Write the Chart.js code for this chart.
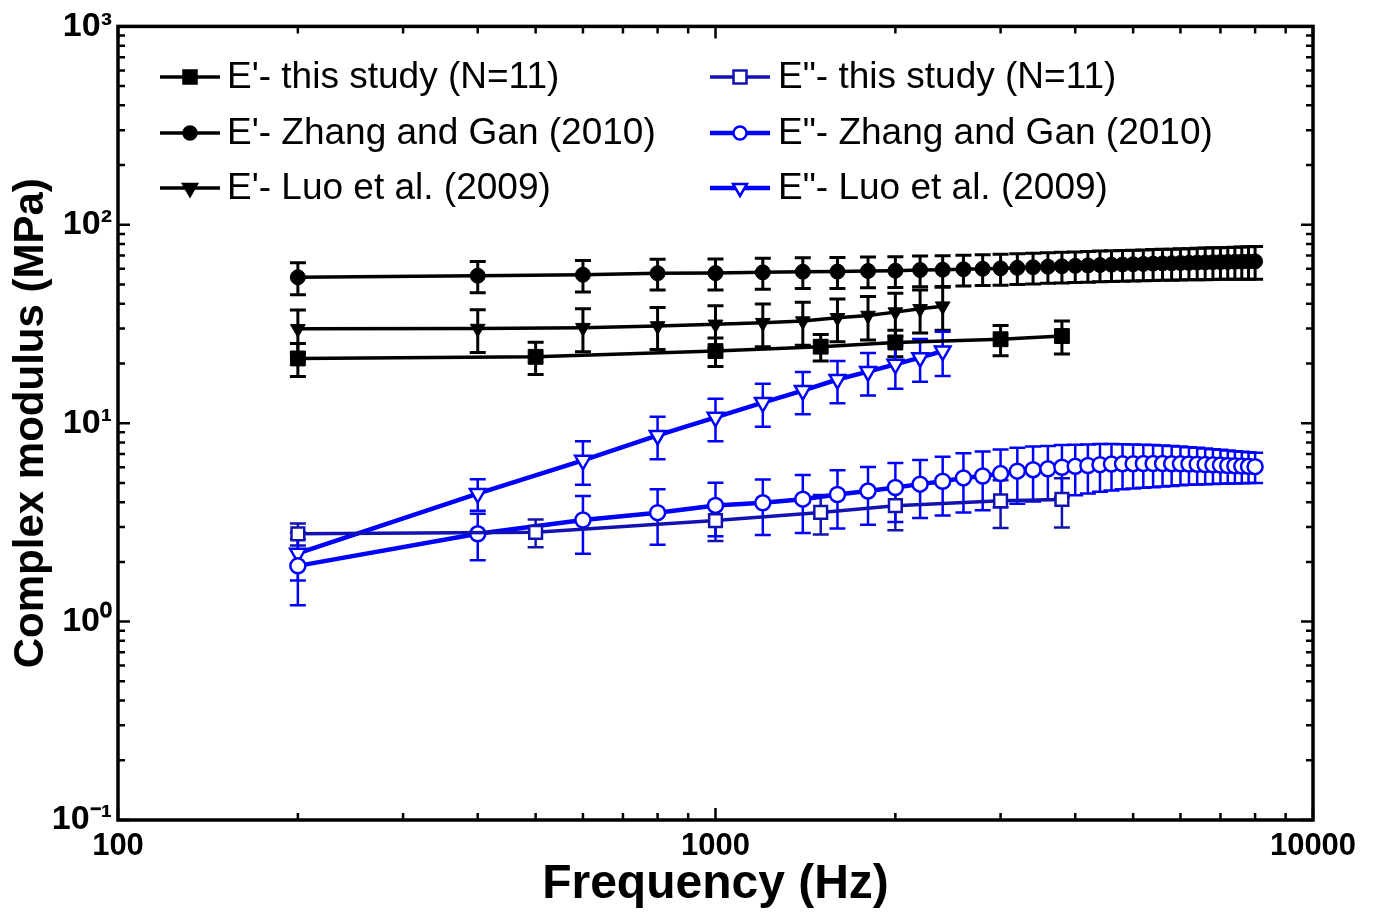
<!DOCTYPE html>
<html>
<head>
<meta charset="utf-8">
<script src="https://cdn.jsdelivr.net/npm/chart.js@4.4.1/dist/chart.umd.min.js"></script>
<style>
html, body { margin: 0; padding: 0; background: #fff; }
#wrap { width: 1376px; height: 916px; }
</style>
</head>
<body>
<div id="wrap"><canvas id="grafico" width="1376" height="916"></canvas></div>
<script>
// frequencies (Hz)
var freqEsteEstudo = [200, 500, 1000, 1500, 2000, 3000, 3800];
var freqZhang = [200, 400, 600, 800, 1000, 1200, 1400, 1600, 1800, 2000,
                 2200, 2400, 2600, 2800, 3000, 3200, 3400, 3600, 3800, 4000,
                 4200, 4400, 4600, 4800, 5000, 5200, 5400, 5600, 5800, 6000,
                 6200, 6400, 6600, 6800, 7000, 7200, 7400, 7600, 7800, 8000];
var freqLuo = [200, 400, 600, 800, 1000, 1200, 1400, 1600, 1800, 2000, 2200, 2400];

// E' storage modulus (MPa) and SD
var e1EsteEstudo = [21.2, 21.6, 23.1, 24.3, 25.5, 26.5, 27.5];
var e1EsteEstudoSd = [4.0, 4.0, 3.8, 3.7, 3.9, 4.6, 5.2];
var e1Zhang = [54.4, 55.4, 56.0, 57.0, 57.1, 57.6, 58.0, 58.1, 58.5, 58.7,
               59.2, 59.4, 59.7, 60.0, 60.3, 60.7, 61.1, 61.5, 61.8, 62.1,
               62.4, 62.7, 62.9, 63.1, 63.3, 63.5, 63.7, 63.9, 64.0, 64.2,
               64.3, 64.5, 64.6, 64.8, 64.9, 65.0, 65.1, 65.2, 65.3, 65.4];
var e1ZhangSd = [10.0, 10.0, 10.1, 10.1, 10.2, 10.2, 10.3, 10.3, 10.4, 10.4,
                 10.5, 10.5, 10.6, 10.6, 10.7, 10.7, 10.8, 10.8, 10.9, 10.9,
                 11.0, 11.0, 11.1, 11.1, 11.2, 11.2, 11.3, 11.3, 11.4, 11.5,
                 11.5, 11.6, 11.7, 11.8, 11.8, 11.9, 12.0, 12.1, 12.2, 12.3];
var e1Luo = [29.9, 30.0, 30.3, 30.9, 31.5, 32.1, 32.7, 34.0, 34.9, 36.3, 37.7, 38.9];
var e1LuoSd = [7.3, 7.3, 7.4, 7.4, 7.6, 7.8, 8.0, 8.3, 8.6, 8.9, 9.2, 9.5];

// E'' loss modulus (MPa) and SD
var e2EsteEstudo = [2.77, 2.82, 3.23, 3.55, 3.84, 4.06, 4.13];
var e2EsteEstudoSd = [0.35, 0.45, 0.68, 0.8, 0.95, 1.1, 1.15];
var e2Zhang = [1.91, 2.77, 3.25, 3.54, 3.85, 3.97, 4.14, 4.37, 4.55, 4.74,
               4.93, 5.10, 5.30, 5.42, 5.57, 5.73, 5.83, 5.89, 6.00, 6.06,
               6.12, 6.18, 6.22, 6.24, 6.25, 6.26, 6.26, 6.26, 6.25, 6.24,
               6.23, 6.21, 6.19, 6.17, 6.15, 6.12, 6.10, 6.08, 6.06, 6.04];
var e2ZhangSd = [0.70, 0.73, 1.05, 1.10, 1.16, 1.24, 1.34, 1.42, 1.47, 1.56,
                 1.60, 1.67, 1.75, 1.78, 1.80, 1.80, 1.80, 1.78, 1.76, 1.73,
                 1.70, 1.67, 1.64, 1.60, 1.57, 1.53, 1.50, 1.46, 1.42, 1.38,
                 1.34, 1.30, 1.27, 1.23, 1.20, 1.16, 1.13, 1.10, 1.07, 1.05];
var e2Luo = [2.21, 4.42, 6.50, 8.68, 10.7, 12.7, 14.6, 16.6, 18.2, 19.8, 21.4, 23.1];
var e2LuoSd = [0.6, 0.8, 1.6, 2.1, 2.6, 3.1, 3.5, 4.0, 4.4, 4.9, 5.2, 5.8];

var xTicks = [100, 1000, 10000];
var xTickLabels = ['100', '1000', '10000'];
var yTicks = [0.1, 1, 10, 100, 1000];
var yTickLabels = ['10\u207B\u00B9', '10\u2070', '10\u00B9', '10\u00B2', '10\u00B3'];

var preto = '#000000';
var azul = '#0000FF';
var azulEscuro = '#1212B0';
var fonte = "'Liberation Sans', Arial, sans-serif";

function pontos(xs, ys) {
	var arr = [];
	for (var i = 0; i < xs.length; i++) {
		arr.push({x: xs[i], y: ys[i]});
	}
	return arr;
}

function serie(label, xs, ys, sd, cor, estilo, raio, cheio, larg, rot) {
	return {
		label: label,
		data: pontos(xs, ys),
		erros: sd,
		borderColor: cor,
		backgroundColor: cheio ? cor : '#ffffff',
		borderWidth: larg,
		pointStyle: estilo,
		pointRadius: raio,
		pointRotation: rot || 0,
		pointBorderWidth: cheio ? 1 : 2.5,
		pointBorderColor: cor,
		pointBackgroundColor: cheio ? cor : '#ffffff',
		tension: 0,
		fill: false
	};
}

var datasets = [
	serie("E'- this study (N=11)", freqEsteEstudo, e1EsteEstudo, e1EsteEstudoSd, preto, 'rect', 10.5, true, 3.5),
	serie("E'- Zhang and Gan (2010)", freqZhang, e1Zhang, e1ZhangSd, preto, 'circle', 7.5, true, 3.5),
	serie("E'- Luo et al. (2009)", freqLuo, e1Luo, e1LuoSd, preto, 'triangle', 8.5, true, 3.5, 180),
	serie('E"- this study (N=11)', freqEsteEstudo, e2EsteEstudo, e2EsteEstudoSd, azulEscuro, 'rect', 9, false, 3.5),
	serie('E"- Zhang and Gan (2010)', freqZhang, e2Zhang, e2ZhangSd, azul, 'circle', 7.5, false, 4.5),
	serie('E"- Luo et al. (2009)', freqLuo, e2Luo, e2LuoSd, azul, 'triangle', 9, false, 4.5, 180)
];

// barras de erro desenhadas pelas escalas do grafico
var barrasErro = {
	id: 'barrasErro',
	beforeDatasetsDraw: function(chart) {
		var ctx = chart.ctx;
		var sx = chart.scales.x, sy = chart.scales.y;
		var area = chart.chartArea;
		ctx.save();
		ctx.beginPath();
		ctx.rect(area.left, area.top, area.right - area.left, area.bottom - area.top);
		ctx.clip();
		chart.data.datasets.forEach(function(ds) {
			ctx.strokeStyle = ds.borderColor;
			ctx.lineWidth = ds.backgroundColor === '#ffffff' ? 2.5 : 3;
			for (var j = 0; j < ds.data.length; j++) {
				var p = ds.data[j];
				var e = ds.erros[j];
				var px = sx.getPixelForValue(p.x);
				var top = sy.getPixelForValue(p.y + e);
				var bot = sy.getPixelForValue(p.y - e);
				ctx.beginPath();
				ctx.moveTo(px, top); ctx.lineTo(px, bot);
				ctx.moveTo(px - 8, top); ctx.lineTo(px + 8, top);
				ctx.moveTo(px - 8, bot); ctx.lineTo(px + 8, bot);
				ctx.stroke();
			}
		});
		ctx.restore();
	}
};

// moldura com marcas para dentro
var moldura = {
	id: 'moldura',
	afterDraw: function(chart) {
		var ctx = chart.ctx;
		var a = chart.chartArea;
		var sx = chart.scales.x, sy = chart.scales.y;
		ctx.save();
		ctx.strokeStyle = '#000';
		ctx.lineWidth = 2.5;
		ctx.beginPath();
		var dec, m, v, px, py, len;
		for (dec = 100; dec <= 10000; dec *= 10) {
			for (m = 1; m <= 9; m++) {
				v = dec * m;
				if (v > 10000) break;
				px = sx.getPixelForValue(v);
				len = m === 1 ? 12 : 7;
				ctx.moveTo(px, a.bottom); ctx.lineTo(px, a.bottom - len);
				ctx.moveTo(px, a.top); ctx.lineTo(px, a.top + len);
			}
		}
		for (dec = 0.1; dec <= 1000; dec *= 10) {
			for (m = 1; m <= 9; m++) {
				v = dec * m;
				if (v > 1000.5) break;
				py = sy.getPixelForValue(v);
				len = m === 1 ? 12 : 7;
				ctx.moveTo(a.left, py); ctx.lineTo(a.left + len, py);
				ctx.moveTo(a.right, py); ctx.lineTo(a.right - len, py);
			}
		}
		ctx.stroke();
		ctx.lineWidth = 3.5;
		ctx.strokeRect(a.left, a.top, a.right - a.left, a.bottom - a.top);
		ctx.restore();
	}
};

// legenda em duas colunas
var legenda = {
	id: 'legenda',
	afterDraw: function(chart) {
		var ctx = chart.ctx;
		var colunas = [{x0: 160, x1: 220, tx: 227}, {x0: 710, x1: 770, tx: 778}];
		var linhas = [77, 133, 188];
		ctx.save();
		ctx.font = '37px ' + fonte;
		ctx.textBaseline = 'middle';
		ctx.fillStyle = '#000';
		chart.data.datasets.forEach(function(ds, i) {
			var c = colunas[Math.floor(i / 3)];
			var y = linhas[i % 3];
			var cx = (c.x0 + c.x1) / 2;
			ctx.strokeStyle = ds.borderColor;
			ctx.lineWidth = ds.borderWidth;
			ctx.beginPath();
			ctx.moveTo(c.x0, y); ctx.lineTo(c.x1, y);
			ctx.stroke();
			ctx.lineWidth = 2.5;
			ctx.fillStyle = ds.pointBackgroundColor;
			var r = 8;
			ctx.beginPath();
			if (ds.pointStyle === 'rect') {
				ctx.rect(cx - 6.5, y - 6.5, 13, 13);
			} else if (ds.pointStyle === 'circle') {
				ctx.arc(cx, y, 6.5, 0, Math.PI * 2);
			} else {
				ctx.moveTo(cx - r * 0.87, y - r * 0.5);
				ctx.lineTo(cx + r * 0.87, y - r * 0.5);
				ctx.lineTo(cx, y + r);
				ctx.closePath();
			}
			ctx.fill();
			ctx.stroke();
			ctx.fillStyle = '#000';
			ctx.fillText(ds.label, c.tx, y + 1);
		});
		ctx.restore();
	}
};

var grafico = new Chart(document.getElementById('grafico'), {
	type: 'line',
	data: { datasets: datasets },
	options: {
		responsive: false,
		animation: false,
		layout: { padding: { top: 22, right: 63, left: 0, bottom: 0 } },
		plugins: { legend: { display: false }, tooltip: { enabled: false } },
		scales: {
			x: {
				type: 'logarithmic',
				min: 100,
				max: 10000,
				afterBuildTicks: function(scale) {
					scale.ticks = xTicks.map(function(v) { return {value: v, major: true}; });
				},
				afterFit: function(scale) { scale.height = 96; },
				grid: { display: false, drawTicks: false },
				border: { display: false },
				ticks: {
					autoSkip: false,
					maxRotation: 0,
					padding: 8,
					color: '#000',
					font: { family: fonte, size: 31, weight: 'bold' },
					callback: function(v) { return xTickLabels[xTicks.indexOf(v)]; }
				},
				title: {
					display: true,
					text: 'Frequency (Hz)',
					color: '#000',
					font: { family: fonte, size: 48, weight: 'bold' },
					padding: { top: 0, bottom: 2 }
				}
			},
			y: {
				type: 'logarithmic',
				min: 0.1,
				max: 1000,
				afterBuildTicks: function(scale) {
					scale.ticks = yTicks.map(function(v) { return {value: v, major: true}; });
				},
				afterFit: function(scale) { scale.width = 118; },
				grid: { display: false, drawTicks: false },
				border: { display: false },
				ticks: {
					autoSkip: false,
					padding: 6,
					color: '#000',
					font: { family: fonte, size: 34, weight: 'bold' },
					callback: function(v) {
						for (var k = 0; k < yTicks.length; k++) {
							if (Math.abs(yTicks[k] - v) < 1e-9 * Math.max(1, v)) return yTickLabels[k];
						}
						return '';
					}
				},
				title: {
					display: true,
					text: 'Complex modulus (MPa)',
					color: '#000',
					font: { family: fonte, size: 42, weight: 'bold' },
					padding: { top: 6, bottom: 0 }
				}
			}
		}
	},
	plugins: [barrasErro, moldura, legenda]
});
</script>
</body>
</html>
